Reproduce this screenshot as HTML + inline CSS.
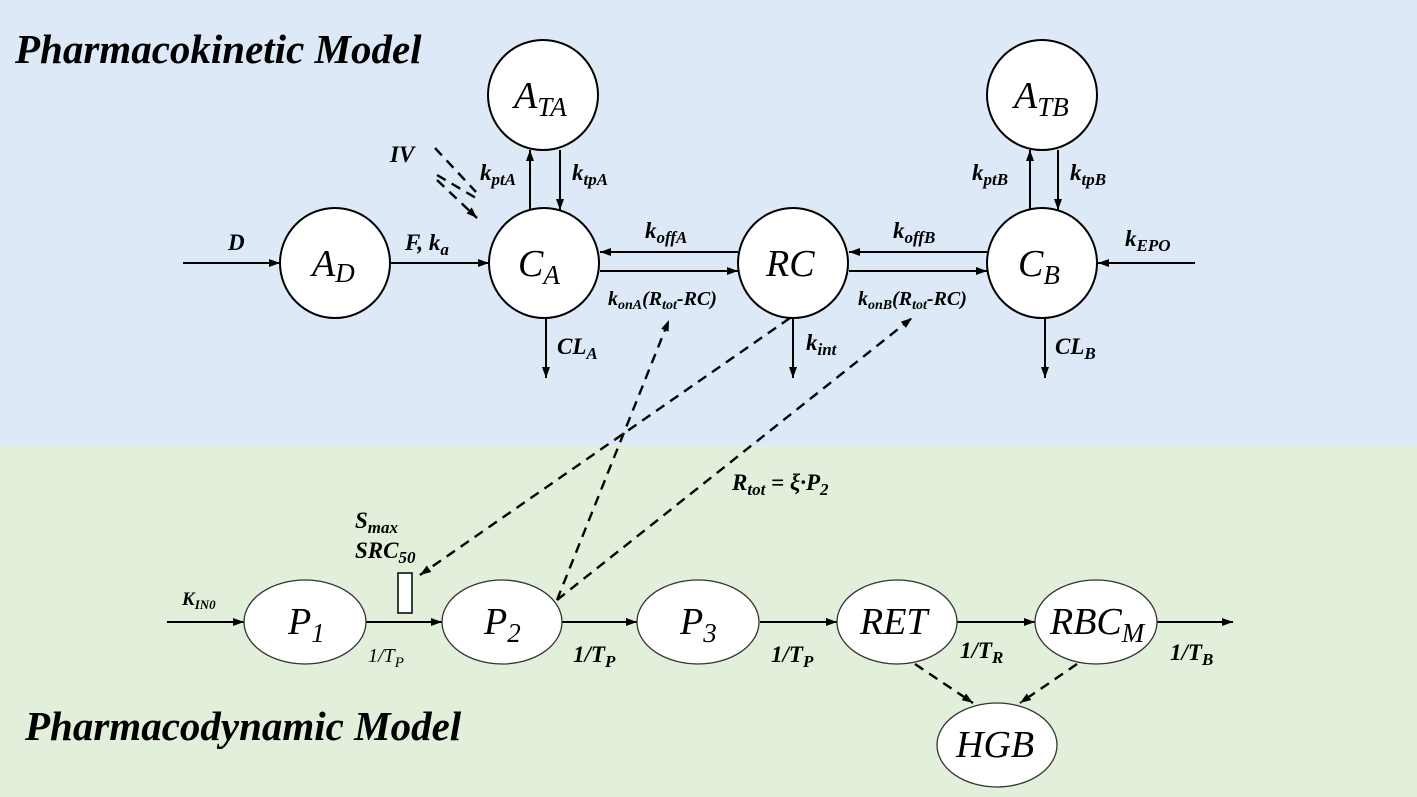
<!DOCTYPE html>
<html><head><meta charset="utf-8"><style>
html,body{margin:0;padding:0}
svg{display:block}
text{font-family:"Liberation Serif",serif;font-style:italic}
.n{font-size:38px}
.b{font-weight:bold;font-size:23px}
.t{font-weight:bold;font-size:41px}
</style></head><body>
<svg width="1417" height="797" viewBox="0 0 1417 797" xmlns="http://www.w3.org/2000/svg">
<defs>
<marker id="a" markerWidth="11" markerHeight="8" refX="11" refY="4" orient="auto" markerUnits="userSpaceOnUse"><path d="M0,0 L11,4 L0,8 Z" fill="#000"/></marker>
</defs>
<rect x="0" y="0" width="1417" height="446" fill="#dde9f6"/>
<rect x="0" y="446" width="1417" height="351" fill="#e2efda"/>
<text x="15" y="63" class="t">Pharmacokinetic Model</text>
<text x="25" y="740" class="t">Pharmacodynamic Model</text>
<g stroke="#000" stroke-width="2" fill="none">
<line x1="183" y1="263" x2="280" y2="263" marker-end="url(#a)"/>
<line x1="390" y1="263" x2="489" y2="263" marker-end="url(#a)"/>
<line x1="530" y1="210" x2="530" y2="150" marker-end="url(#a)"/>
<line x1="560" y1="150" x2="560" y2="210" marker-end="url(#a)"/>
<line x1="1030" y1="210" x2="1030" y2="150" marker-end="url(#a)"/>
<line x1="1058" y1="150" x2="1058" y2="210" marker-end="url(#a)"/>
<line x1="738" y1="252" x2="600" y2="252" marker-end="url(#a)"/>
<line x1="600" y1="271" x2="738" y2="271" marker-end="url(#a)"/>
<line x1="987" y1="252" x2="849" y2="252" marker-end="url(#a)"/>
<line x1="849" y1="271" x2="987" y2="271" marker-end="url(#a)"/>
<line x1="1195" y1="263" x2="1098" y2="263" marker-end="url(#a)"/>
<line x1="546" y1="318" x2="546" y2="378" marker-end="url(#a)"/>
<line x1="793" y1="318" x2="793" y2="378" marker-end="url(#a)"/>
<line x1="1045" y1="318" x2="1045" y2="378" marker-end="url(#a)"/>
<line x1="167" y1="622" x2="244" y2="622" marker-end="url(#a)"/>
<line x1="366" y1="622" x2="442" y2="622" marker-end="url(#a)"/>
<line x1="562" y1="622" x2="637" y2="622" marker-end="url(#a)"/>
<line x1="760" y1="622" x2="837" y2="622" marker-end="url(#a)"/>
<line x1="957" y1="622" x2="1035" y2="622" marker-end="url(#a)"/>
<line x1="1157" y1="622" x2="1233" y2="622" marker-end="url(#a)"/>
</g>
<g stroke="#000" stroke-width="2.4" fill="none" stroke-dasharray="10,7">
<line x1="435" y1="148" x2="476" y2="192"/>
<line x1="437" y1="175" x2="476" y2="198"/>
<line x1="437" y1="180" x2="477" y2="218" marker-end="url(#a)"/>
<line x1="790" y1="318" x2="420" y2="575" marker-end="url(#a)"/>
<line x1="557" y1="600" x2="669" y2="320" marker-end="url(#a)"/>
<line x1="557" y1="600" x2="912" y2="318" marker-end="url(#a)"/>
<line x1="915" y1="664" x2="973" y2="703" marker-end="url(#a)"/>
<line x1="1077" y1="664" x2="1020" y2="703" marker-end="url(#a)"/>
</g>
<g stroke="#000" stroke-width="2" fill="#fff">
<circle cx="335" cy="263" r="55"/>
<circle cx="544" cy="263" r="55"/>
<circle cx="543" cy="95" r="55"/>
<circle cx="793" cy="263" r="55"/>
<circle cx="1042" cy="263" r="55"/>
<circle cx="1042" cy="95" r="55"/>
<rect x="398" y="573" width="14" height="40" stroke-width="1.5"/>
</g>
<g stroke="#333" stroke-width="1.3" fill="#fff">
<ellipse cx="305" cy="622" rx="61" ry="42"/>
<ellipse cx="502" cy="622" rx="60" ry="42"/>
<ellipse cx="698" cy="622" rx="61" ry="42"/>
<ellipse cx="897" cy="622" rx="60" ry="42"/>
<ellipse cx="1096" cy="622" rx="61" ry="42"/>
<ellipse cx="997" cy="745" rx="60" ry="42"/>
</g>
<g>
<text x="312" y="276" class="n">A<tspan font-size="27" dy="6">D</tspan></text>
<text x="518" y="276" class="n">C<tspan font-size="27" dy="8">A</tspan></text>
<text x="514" y="108" class="n">A<tspan font-size="27" dy="8">TA</tspan></text>
<text x="766" y="276" class="n">RC</text>
<text x="1018" y="276" class="n">C<tspan font-size="27" dy="8">B</tspan></text>
<text x="1014" y="108" class="n">A<tspan font-size="27" dy="8">TB</tspan></text>
<text x="288" y="634" class="n">P<tspan font-size="27" dy="8">1</tspan></text>
<text x="484" y="634" class="n">P<tspan font-size="27" dy="8">2</tspan></text>
<text x="680" y="634" class="n">P<tspan font-size="27" dy="8">3</tspan></text>
<text x="860" y="634" class="n">RET</text>
<text x="1050" y="634" class="n">RBC<tspan font-size="27" dy="8">M</tspan></text>
<text x="956" y="757" class="n">HGB</text>
</g>
<g>
<text x="228" y="250" class="b">D</text>
<text x="405" y="250" class="b">F, k<tspan font-size="17" dy="5">a</tspan></text>
<text x="390" y="162" class="b">IV</text>
<text x="480" y="180" class="b">k<tspan font-size="17" dy="5">ptA</tspan></text>
<text x="572" y="180" class="b">k<tspan font-size="17" dy="5">tpA</tspan></text>
<text x="972" y="180" class="b">k<tspan font-size="17" dy="5">ptB</tspan></text>
<text x="1070" y="180" class="b">k<tspan font-size="17" dy="5">tpB</tspan></text>
<text x="645" y="238" class="b">k<tspan font-size="17" dy="5">offA</tspan></text>
<text x="893" y="238" class="b">k<tspan font-size="17" dy="5">offB</tspan></text>
<text x="1125" y="246" class="b">k<tspan font-size="17" dy="5">EPO</tspan></text>
<text x="608" y="305" font-size="20" font-weight="bold">k<tspan font-size="14" dy="4">onA</tspan><tspan dy="-4">(R</tspan><tspan font-size="14" dy="4">tot</tspan><tspan dy="-4">-RC)</tspan></text>
<text x="858" y="305" font-size="20" font-weight="bold">k<tspan font-size="14" dy="4">onB</tspan><tspan dy="-4">(R</tspan><tspan font-size="14" dy="4">tot</tspan><tspan dy="-4">-RC)</tspan></text>
<text x="557" y="354" class="b">CL<tspan font-size="17" dy="5">A</tspan></text>
<text x="806" y="350" class="b">k<tspan font-size="17" dy="5">int</tspan></text>
<text x="1055" y="354" class="b">CL<tspan font-size="17" dy="5">B</tspan></text>
<text x="732" y="490" class="b">R<tspan font-size="17" dy="5">tot</tspan><tspan dy="-5"> = ξ·P</tspan><tspan font-size="17" dy="5">2</tspan></text>
<text x="355" y="528" class="b">S<tspan font-size="17" dy="5">max</tspan></text>
<text x="355" y="558" class="b">SRC<tspan font-size="17" dy="5">50</tspan></text>
<text x="182" y="605" font-size="19" font-weight="bold">K<tspan font-size="13" dy="4">IN0</tspan></text>
<text x="368" y="662" font-size="20">1/T<tspan font-size="15" dy="5">P</tspan></text>
<text x="573" y="662" class="b">1/T<tspan font-size="17" dy="5">P</tspan></text>
<text x="771" y="662" class="b">1/T<tspan font-size="17" dy="5">P</tspan></text>
<text x="960" y="658" class="b">1/T<tspan font-size="17" dy="5">R</tspan></text>
<text x="1170" y="660" class="b">1/T<tspan font-size="17" dy="5">B</tspan></text>
</g>
</svg>
</body></html>
